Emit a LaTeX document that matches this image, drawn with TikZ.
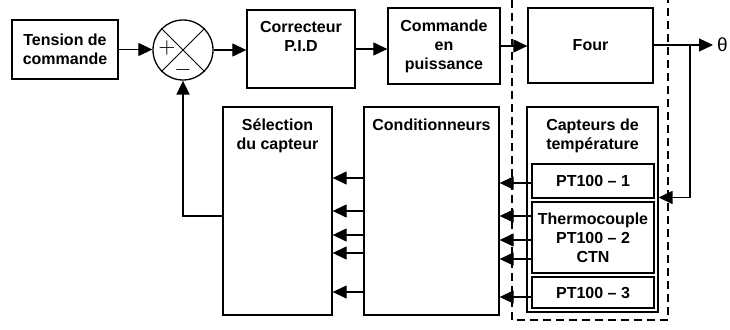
\documentclass[tikz,border=0pt]{standalone}
\usepackage{fontspec}
\setmainfont{Liberation Sans}
\usetikzlibrary{
  arrows.meta,
  positioning,
  calc
}

\tikzset{
  bloc/.style={draw, line width=1.3pt, align=center, inner sep=3pt,
    font=\bfseries\fontsize{16}{19}\selectfont},
  titre/.style={anchor=north, align=center, inner sep=3pt,
    font=\bfseries\fontsize{16}{19}\selectfont},
  fleche/.style={-{Triangle[length=14pt,width=13pt]}, line width=1.2pt},
  retour/.style={fleche, line width=1.8pt}
}

\begin{document}
\begin{tikzpicture}[x=1pt,y=-1pt]
\useasboundingbox (0,0) rectangle (730,329);

% Chaine directe
\node[bloc, minimum width=106pt, minimum height=59pt] (tension) at (65,49.5) {Tension de\\commande};
\node[draw, circle, line width=1.3pt, minimum size=60pt, inner sep=0pt] (somme) at (183,50) {};
\draw[line width=1pt] (somme.north west) -- (somme.south east)
                      (somme.north east) -- (somme.south west);
\node[scale=2.2] (plus) at (167,48) {$+$};
\node[scale=2.2] (moins) at (183,70) {$-$};

\node[bloc, minimum width=108pt, minimum height=78pt] (pid) at (301,49) {};
\node[titre] (pid-txt) at ([yshift=-9pt]pid.north) {Correcteur\\P.I.D};
\node[bloc, minimum width=112pt, minimum height=76pt] (puiss) at (444,46) {Commande\\en\\puissance};
\node[bloc, minimum width=125pt, minimum height=75pt] (four) at (590.5,45.5) {Four};
\node[anchor=west, inner xsep=4pt, inner ysep=0pt, font=\fontsize{19}{19}\selectfont] (theta) at (713,45) {θ};

\draw[fleche] (tension.east) -- (tension.east -| somme.west);
\draw[fleche] (somme.east) -- (somme.east -| pid.west);
\draw[fleche] (pid.east) -- (pid.east -| puiss.west);
\draw[fleche] (puiss.east) -- (puiss.east -| four.west);
\draw[fleche] (four.east |- theta.west) -- (theta.west);

% Chaine de retour
\node[bloc, minimum width=109pt, minimum height=208pt] (sel) at (277.5,211) {};
\node[titre] (sel-txt) at ([yshift=-9pt]sel.north) {Sélection\\du capteur};
\node[bloc, minimum width=135pt, minimum height=208pt] (cond) at (431.5,211) {};
\node[titre] (cond-txt) at ([yshift=-9pt]cond.north) {Conditionneurs};
\node[bloc, minimum width=131pt, minimum height=205pt] (capt) at (592.5,209.5) {};
\node[titre] (capt-txt) at ([yshift=-9pt]capt.north) {Capteurs de\\température};
\node[bloc, minimum width=122pt, minimum height=34pt] (pt1) at (593,181) {PT100 -- 1};
\node[bloc, minimum width=122pt, minimum height=71pt] (thermo) at (593,237.5) {Thermocouple\\PT100 -- 2\\CTN};
\node[bloc, minimum width=122pt, minimum height=31pt] (pt3) at (593,292.5) {PT100 -- 3};

% Capteurs -> conditionneurs
\draw[fleche] ([yshift=-2pt]pt1.west) -- ([yshift=-2pt]pt1.west -| cond.east);
\foreach \dy in {21.5,-2.5,-21.5}
  \draw[fleche] ([yshift=\dy pt]thermo.west) -- ([yshift=\dy pt]thermo.west -| cond.east);
\draw[fleche] ([yshift=-4.5pt]pt3.west) -- ([yshift=-4.5pt]pt3.west -| cond.east);

% Conditionneurs -> selection
\foreach \dy in {33,0,-24,-42,-81}
  \draw[fleche] ([yshift=\dy pt]cond.west) -- ([yshift=\dy pt]cond.west -| sel.east);

% Retour
\coordinate (sortie) at ($(four.east)!0.5!(theta.west)+(7,0)$);
\draw[retour] (sortie) |- ([yshift=12pt]capt.east);
\draw[retour] ([yshift=-5pt]sel.west) -| (somme.south);

% Limite du systeme
\draw[line width=1.8pt, dash pattern=on 8pt off 5pt] (512,0) |- (668,320) -- (668,0);

\end{tikzpicture}
\end{document}
